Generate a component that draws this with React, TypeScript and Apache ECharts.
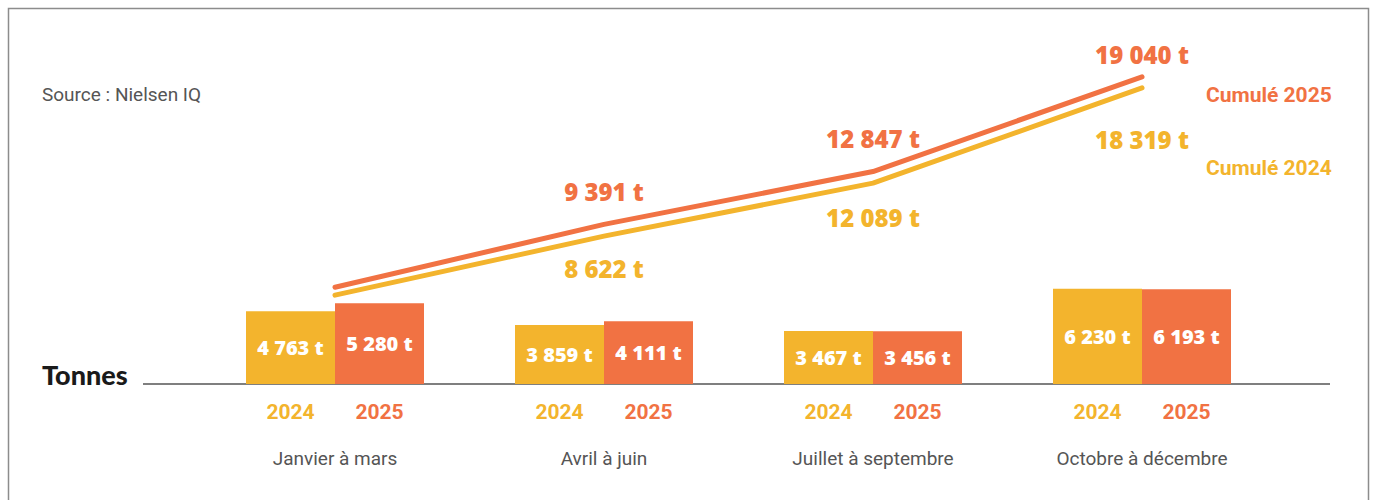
import React, { useEffect, useRef } from "react";
import * as echarts from "echarts";

const quarters = ["Janvier à mars", "Avril à juin", "Juillet à septembre", "Octobre à décembre"];
const years = ["2024", "2025"];
const tonnes2024 = [4763, 3859, 3467, 6230];
const tonnes2025 = [5280, 4111, 3456, 6193];
const cumul2024 = [4763, 8622, 12089, 18319];
const cumul2025 = [5280, 9391, 12847, 19040];

const YELLOW = "#F3B42D";
const ORANGE = "#F17243";
const NARROW = '"Liberation Sans Narrow", "Arial Narrow", "Roboto", sans-serif';
const NUMFONT = '"Open Sans", "Noto Sans", sans-serif';

const fmt = (v: number) => String(v).replace(/\B(?=(\d{3})+(?!\d))/g, " ") + " t";

export default function App() {
  const ref = useRef<HTMLDivElement>(null);
  useEffect(() => {
    if (!ref.current) return;
    const chart = echarts.init(ref.current, null, { renderer: "svg" });
    const topDist = [0, 19, 20, 9];
    const bottomDist = [0, 19, 21, 38];
    const lineData = (vals: number[], color: string, pos: "top" | "bottom", dists: number[]) =>
      vals.map((v, i) => ({
        value: v,
        label: {
          show: i > 0,
          position: pos,
          distance: dists[i],
          color,
          fontFamily: NUMFONT,
          fontWeight: 800,
          fontSize: 24,
          lineHeight: 26,
          formatter: () => fmt(v),
        },
      }));
    chart.setOption({
      animation: false,
      grid: { left: 200.5, right: 96.5, top: 63, bottom: 116 },
      xAxis: {
        type: "category",
        data: quarters,
        axisLine: { show: false },
        axisTick: { show: false },
        axisLabel: {
          margin: 16,
          formatter: (v: string) => `{a|${years[0]}}{b|${years[1]}}\n{c|${v}}`,
          rich: {
            a: { width: 89, align: "center", color: YELLOW, fontFamily: NARROW, fontWeight: "bold", fontSize: 21, lineHeight: 24 },
            b: { width: 89, align: "center", color: ORANGE, fontFamily: NARROW, fontWeight: "bold", fontSize: 21, lineHeight: 24 },
            c: { align: "center", color: "#555", fontFamily: NARROW, fontSize: 19, lineHeight: 68 },
          },
        },
      },
      yAxis: [
        { type: "value", min: 0, max: 21000, show: false },
        { type: "value", min: -1050, max: 19950, show: false },
      ],
      series: [
        {
          name: "2024",
          type: "bar",
          data: tonnes2024,
          barWidth: 89,
          barGap: "0%",
          itemStyle: { color: YELLOW },
          label: {
            show: true,
            position: "inside",
            color: "#fff",
            fontFamily: NUMFONT,
            fontWeight: 800,
            fontSize: 20,
            formatter: (p: any) => fmt(p.value),
          },
        },
        {
          name: "2025",
          type: "bar",
          data: tonnes2025,
          barWidth: 89,
          barGap: "0%",
          itemStyle: { color: ORANGE },
          label: {
            show: true,
            position: "inside",
            color: "#fff",
            fontFamily: NUMFONT,
            fontWeight: 800,
            fontSize: 20,
            formatter: (p: any) => fmt(p.value),
          },
        },
        {
          name: "Cumulé 2024",
          type: "line",
          yAxisIndex: 1,
          data: lineData(cumul2024, YELLOW, "bottom", bottomDist),
          showSymbol: true,
          symbol: "circle",
          symbolSize: 1,
          itemStyle: { color: YELLOW },
          lineStyle: { color: YELLOW, width: 5, cap: "round", join: "round" },
          z: 3,
        },
        {
          name: "Cumulé 2025",
          type: "line",
          yAxisIndex: 1,
          data: lineData(cumul2025, ORANGE, "top", topDist),
          showSymbol: true,
          symbol: "circle",
          symbolSize: 1,
          itemStyle: { color: ORANGE },
          lineStyle: { color: ORANGE, width: 5, cap: "round", join: "round" },
          z: 3,
        },
      ],
      graphic: [
        {
          type: "rect",
          shape: { x: 8.5, y: 8.5, width: 1360, height: 520 },
          style: { fill: "none", stroke: "#8c8c8c", lineWidth: 1.5 },
          silent: true,
        },
        {
          type: "line",
          shape: { x1: 143, y1: 384, x2: 1330, y2: 384 },
          style: { stroke: "#555", lineWidth: 1.5 },
          silent: true,
        },
        {
          type: "text",
          left: 42,
          top: 85,
          style: { text: "Source : Nielsen IQ", fill: "#555", font: `19px ${NARROW}` },
        },
        {
          type: "text",
          left: 42,
          top: 361,
          style: { text: "Tonnes", fill: "#1a1a1a", font: `900 27px Lato, sans-serif` },
        },
        {
          type: "text",
          left: 1206,
          top: 84,
          style: { text: "Cumulé 2025", fill: ORANGE, font: `bold 21px ${NARROW}` },
        },
        {
          type: "text",
          left: 1206,
          top: 157,
          style: { text: "Cumulé 2024", fill: YELLOW, font: `bold 21px ${NARROW}` },
        },
      ],
    });
    return () => chart.dispose();
  }, []);
  return (
    <div
      ref={ref}
      style={{ position: "absolute", left: 0, top: 0, width: 1373, height: 500, background: "#fff" }}
    />
  );
}
